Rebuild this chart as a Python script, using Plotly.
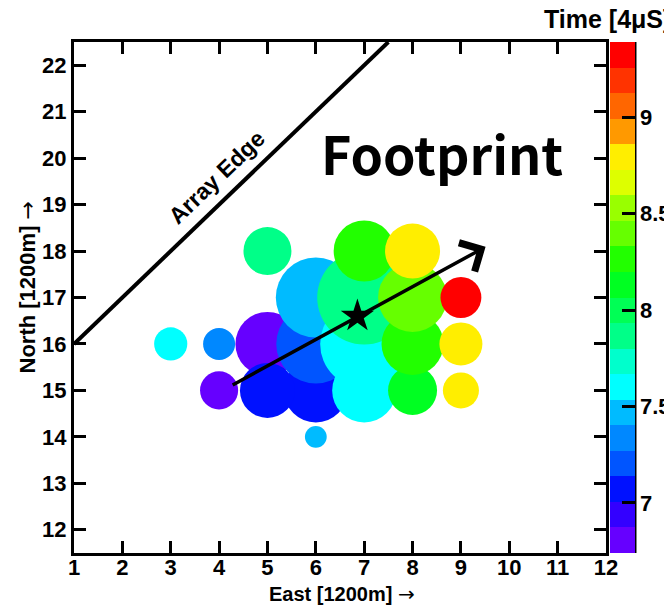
import numpy as np
import plotly.graph_objects as go

# Station grid positions (units of 1200 m)
east = [3, 4, 4, 5, 5, 5, 6, 6, 6, 6, 7, 7, 7, 7, 8, 8, 8, 8, 9, 9, 9]
north = [16, 16, 15, 18, 16, 15, 17, 16, 15, 14, 18, 17, 16, 15, 18, 17, 16, 15, 17, 16, 15]
# Arrival time at each station [4 us]
arrival = [7.60, 7.34, 6.80, 7.87, 6.82, 7.07, 7.47, 7.20, 7.05, 7.50,
           8.27, 7.86, 7.62, 7.60, 8.80, 8.40, 8.26, 8.13, 9.36, 8.80, 8.78]
# Signal recorded at each station (VEM)
signal = [44, 41, 58, 92, 164, 121, 256, 250, 164, 19,
          149, 353, 310, 164, 121, 190, 154, 96, 67, 74, 52]

# Reconstructed core and shower-axis direction
core = (6.86, 16.6)
axis_tail = (4.25, 15.1)
axis_head = (9.51, 18.09)

# Array boundary segment
edge_east = [1, 7.5]
edge_north = [16, 22.5]

# Time scale limits and palette bands (bottom to top)
t_min, t_max = 6.74, 9.39
band_colors = ["#6600ff", "#3300ff", "#0011ff", "#0055ff", "#0088ff",
               "#00bbff", "#00ffff", "#00ffcc", "#00ff88", "#00ff55",
               "#00ff22", "#22ff00", "#66ff00", "#99ff00", "#ddff00",
               "#ffee00", "#ff9900", "#ff6600", "#ff3300", "#ff0000"]
cbar_ticks = [7, 7.5, 8, 8.5, 9]
cbar_labels = ["7", "7.5", "8", "8.5", "9"]

n = len(band_colors)
colorscale = []
for i, c in enumerate(band_colors):
    colorscale.append([i / n, c])
    colorscale.append([(i + 1) / n, c])

# draw later stations on top
order = np.argsort(arrival, kind="stable")
ex = [east[i] for i in order]
nx = [north[i] for i in order]
tx = [arrival[i] for i in order]
sx = [signal[i] for i in order]

FONT = "Liberation Sans"
ARROW = "<span style='font-family:DejaVu Sans;font-weight:normal'>→</span>"

fig = go.Figure()

fig.add_trace(go.Scatter(
    x=edge_east, y=edge_north, mode="lines",
    line=dict(color="black", width=4), hoverinfo="skip", showlegend=False,
))

fig.add_trace(go.Scatter(
    x=ex, y=nx, mode="markers", showlegend=False,
    marker=dict(
        color=tx, cmin=t_min, cmax=t_max, colorscale=colorscale,
        size=sx, sizemode="area", sizeref=0.08,
        line=dict(width=0), opacity=1,
        colorbar=dict(
            x=1.0075, xanchor="left", xpad=0,
            y=0.5, yanchor="middle", ypad=0,
            len=1, lenmode="fraction",
            thickness=25, thicknessmode="pixels",
            outlinewidth=0,
            ticks="inside", ticklen=13, tickwidth=3, tickcolor="black",
            tickvals=cbar_ticks, ticktext=cbar_labels,
            tickfont=dict(family=FONT, size=22, color="black", weight="bold"),
        ),
    ),
))

fig.add_trace(go.Scatter(
    x=[core[0]], y=[core[1]], mode="markers", showlegend=False,
    marker=dict(symbol="star", size=25, color="black", line=dict(width=0)),
))

fig.add_annotation(
    x=axis_head[0], y=axis_head[1], ax=axis_tail[0], ay=axis_tail[1],
    xref="x", yref="y", axref="x", ayref="y",
    text="", showarrow=True, arrowhead=4, arrowsize=1.8, arrowwidth=3.5,
    arrowcolor="black", standoff=0, startstandoff=0,
)

fig.add_annotation(
    x=3.95, y=19.6, xref="x", yref="y", text="Array Edge", showarrow=False,
    textangle=-44, font=dict(family=FONT, size=23, color="black", weight="bold"),
)

fig.add_annotation(
    x=8.6, y=20.13, xref="x", yref="y", text="Footprint", showarrow=False,
    font=dict(family="Noto Sans CJK JP", size=52, color="black", weight="bold"),
)

fig.add_annotation(
    x=0.880, y=1.045, xref="paper", yref="paper", xanchor="left", yanchor="middle",
    text="Time [4μS]", showarrow=False,
    font=dict(family=FONT, size=25, color="black", weight="bold"),
)

# axis titles
fig.add_annotation(
    x=0.503, y=-0.080, xref="paper", yref="paper", xanchor="center", yanchor="middle",
    text="East [1200m] " + ARROW, showarrow=False,
    font=dict(family=FONT, size=20, color="black", weight="bold"),
)
fig.add_annotation(
    x=-0.0865, y=0.5196, xref="paper", yref="paper", xanchor="center", yanchor="middle",
    text="North [1200m] " + ARROW, showarrow=False, textangle=-90,
    font=dict(family=FONT, size=22, color="black", weight="bold"),
)

# right edge of the colour bar
fig.add_shape(type="line", xref="paper", yref="paper",
              x0=1.0545, x1=1.0545, y0=0, y1=1,
              line=dict(color="black", width=3))

axis_common = dict(
    showgrid=False, zeroline=False, showline=True, linewidth=3, linecolor="black",
    mirror="ticks", ticks="inside", ticklen=12, tickwidth=3, tickcolor="black",
    tickfont=dict(family=FONT, size=22, color="black", weight="bold"),
)

fig.update_xaxes(range=[1, 12], tickvals=list(range(1, 13)),
                 ticklabelstandoff=-7, **axis_common)
fig.update_yaxes(range=[11.5, 22.5], tickvals=list(range(12, 23)), **axis_common)

fig.update_layout(
    width=664, height=609,
    margin=dict(l=74, r=58, t=42, b=56, autoexpand=False),
    paper_bgcolor="white", plot_bgcolor="white",
)

fig.write_html("out.html")
